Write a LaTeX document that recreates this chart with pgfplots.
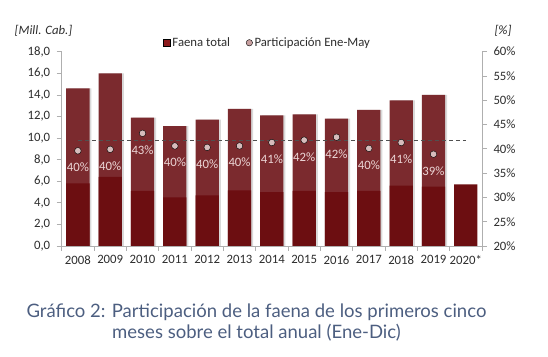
\documentclass[border=0pt]{standalone}
\usepackage{fontspec}
\setmainfont{Carlito}
\newfontfamily\capfont{Lato}
\usepackage{pgfplots}
\pgfplotsset{compat=1.18}
\usepackage{pgfplotstable}

\definecolor{totc}{RGB}{123,42,46}
\definecolor{emc}{RGB}{108,14,17}
\definecolor{legc}{RGB}{140,26,28}
\definecolor{ptc}{RGB}{214,188,188}
\definecolor{legpt}{RGB}{200,160,160}
\definecolor{lblc}{RGB}{236,214,214}
\definecolor{axc}{RGB}{175,175,175}
\definecolor{txc}{RGB}{45,45,45}
\definecolor{dashc}{RGB}{80,80,80}
\definecolor{capc}{RGB}{76,94,128}

\pgfplotstableread{
x total enemay
0 14.6 5.8
1 16.0 6.4
2 11.9 5.1
3 11.1 4.5
4 11.7 4.7
5 12.7 5.15
6 12.1 5.0
7 12.2 5.1
8 11.8 5.0
9 12.6 5.1
10 13.5 5.6
11 14.0 5.5
12 nan 5.7
}\bars

\pgfplotstableread{
x pct lbl
0 39.6 40
1 39.9 40
2 43.2 43
3 40.6 40
4 40.3 40
5 40.6 40
6 41.3 41
7 41.8 42
8 42.4 42
9 40.1 40
10 41.3 41
11 38.9 39
}\pcts

\newcommand{\tfont}{\fontsize{12.8}{14}\selectfont}

\begin{document}
\begin{tikzpicture}
\path[use as bounding box] (0bp,0bp) rectangle (548bp,357bp);

\begin{axis}[
  at={(61.7bp,111bp)}, anchor=south west,
  scale only axis, width=420.3bp, height=194.3bp,
  xmin=-0.5, xmax=12.5, ymin=0, ymax=18,
  axis x line*=bottom, axis y line*=left,
  axis line style={axc, line width=0.7bp, -},
  xtick={0,...,12},
  xticklabels={2008,2009,2010,2011,2012,2013,2014,2015,2016,2017,2018,2019,2020*},
  major x tick style={draw=none},
  minor xtick={-0.5,0.5,1.5,2.5,3.5,4.5,5.5,6.5,7.5,8.5,9.5,10.5,11.5,12.5},
  ytick={0,2,...,18},
  tick align=outside, major tick length=5bp, minor tick length=5bp,
  tick style={axc, line width=0.7bp},
  /pgf/number format/assume math mode=true,
  ticklabel style={font=\tfont, color=txc},
  xticklabel style={yshift=-1bp},
  yticklabel style={xshift=-3bp, /pgf/number format/.cd, fixed, fixed zerofill, precision=1, use comma},
]
\addplot[ybar, bar width=0.72, bar shift=0.06, fill=black!25, draw=none, opacity=0.6, forget plot] table[x=x,y=total]{\bars};
\addplot[ybar, bar width=0.72, bar shift=0, fill=totc, draw=none, forget plot] table[x=x,y=total]{\bars};
\addplot[ybar, bar width=0.72, bar shift=0, fill=emc, draw=none, forget plot] table[x=x,y=enemay]{\bars};
\end{axis}

\begin{axis}[
  at={(61.7bp,111bp)}, anchor=south west,
  scale only axis, width=420.3bp, height=194.3bp,
  xmin=-0.5, xmax=12.5, ymin=20, ymax=60,
  hide x axis,
  axis y line*=right,
  axis line style={axc, line width=0.7bp, -},
  ytick={20,25,...,60},
  tick align=outside, major tick length=5bp,
  tick style={axc, line width=0.7bp},
  /pgf/number format/assume math mode=true,
  yticklabel={\pgfmathprintnumber{\tick}\%},
  ticklabel style={font=\tfont, color=txc},
  yticklabel style={xshift=3bp},
  legend style={at={(0.49,1.046)}, anchor=center, legend columns=2, draw=none, fill=none,
    font=\tfont, text=txc,
    /tikz/every even column/.append style={column sep=14bp}},
  legend cell align=left,
]
\addlegendimage{only marks, mark=square*, mark options={fill=legc, draw=none}, mark size=3.6bp}
\addlegendentry{Faena total}
\addlegendimage{only marks, mark=*, mark options={fill=legpt, draw=none}, mark size=3.2bp}
\addlegendentry{Participación Ene-May}

\addplot[dash pattern=on 4bp off 3bp, color=dashc, line width=1bp, forget plot] coordinates {(0,41.8) (12,41.8)};
\addplot[only marks, mark=*, mark size=3.3bp, mark options={fill=ptc, draw=none},
  point meta=explicit symbolic,
  nodes near coords={\pgfplotspointmeta\%},
  nodes near coords style={font=\tfont, color=lblc, anchor=center, yshift=-16.6bp},
  forget plot] table[x=x,y=pct,meta=lbl]{\pcts};
\end{axis}

\node[font=\itshape\tfont, color=txc] at (43.5bp,326.3bp) {[Mill. Cab.]};
\node[font=\itshape\tfont, color=txc] at (503bp,326.3bp) {[\%]};

\node[font=\capfont\fontsize{18.6}{21}\selectfont, color=capc, align=center] at (256.5bp,34.8bp)
  {Gráfico 2: Participación de la faena de los primeros cinco\\meses sobre el total anual (Ene-Dic)};
\end{tikzpicture}
\end{document}
